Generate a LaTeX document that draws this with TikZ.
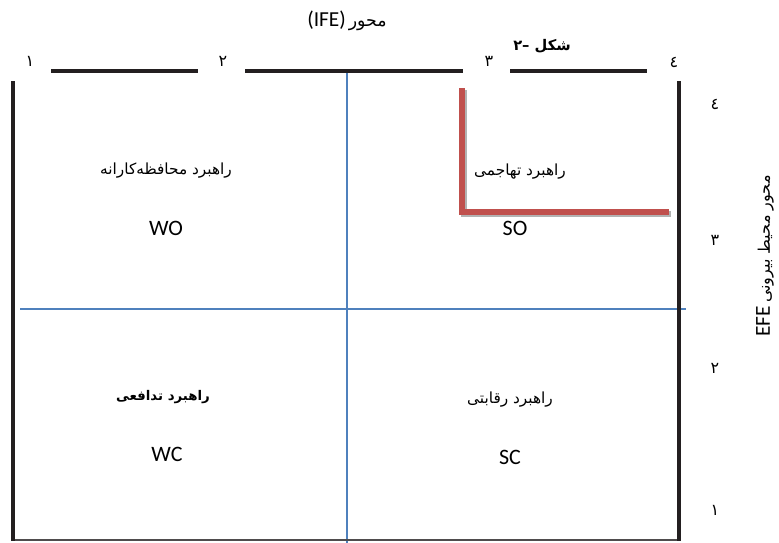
\documentclass[tikz,border=0pt]{standalone}
\usepackage{fontspec}
\setmainfont{Carlito}
\newfontfamily\arabicfont[Script=Arabic]{DejaVu Sans}
\TeXXeTstate=1
\definecolor{framec}{HTML}{231F20}
\definecolor{axisblue}{HTML}{4F81BD}
\definecolor{lred}{HTML}{C0504D}
\tikzset{
  frameline/.style={draw=framec, line width=3pt},
  thinframe/.style={draw=framec!80, line width=1.5pt},
  blueline/.style={draw=axisblue, line width=0.8pt},
  redline/.style={draw=lred, line width=4.3pt},
  shadowline/.style={draw=black!30, line width=4.3pt},
  fa/.style={font=\arabicfont\fontsize{11.5}{13}\selectfont, inner sep=0pt},
  fab/.style={font=\arabicfont\bfseries\fontsize{10}{12}\selectfont, inner sep=0pt},
  lat/.style={font=\fontsize{16.5}{18}\selectfont, inner sep=0pt},
  num/.style={font=\arabicfont\fontsize{12}{14}\selectfont, inner sep=0pt}
}
\begin{document}
\begin{tikzpicture}[x=0.75pt,y=-0.75pt]
\useasboundingbox (0,0) rectangle (779,543);
% frame coordinates
\coordinate (lt) at (13,81);   \coordinate (lb) at (13,541);
\coordinate (rt) at (679,81);  \coordinate (rb) at (679,541);
\coordinate (bl) at (12,540);  \coordinate (br) at (681,540);
\coordinate (s1a) at (51,71);  \coordinate (s1b) at (198,71);
\coordinate (s2a) at (245,71); \coordinate (s2b) at (463,71);
\coordinate (s3a) at (510,71); \coordinate (s3b) at (647,71);
\coordinate (vt) at (347,71);  \coordinate (vb) at (347,543);
\coordinate (hl) at (20,309);  \coordinate (hr) at (686,309);
\coordinate (ra) at (462,88);  \coordinate (rc) at (462,212);  \coordinate (rd) at (669,212);
\coordinate (sa) at (464,90);  \coordinate (sc) at (464,214);  \coordinate (sd) at (671,214);
% blue axes
\draw[blueline] (vt) -- (vb);
\draw[blueline] (hl) -- (hr);
% frame
\draw[thinframe] (bl) -- (br);
\draw[frameline] (lt) -- (lb);
\draw[frameline] (rt) -- (rb);
\draw[frameline] (s1a) -- (s1b);
\draw[frameline] (s2a) -- (s2b);
\draw[frameline] (s3a) -- (s3b);
% red L with shadow
\draw[shadowline] (sa) -- (sc) -- (sd);
\draw[redline] (ra) -- (rc) -- (rd);
% top numbers
\node[num] (t1) at (30,61) {١};
\node[num] (t2) at (223,61) {٢};
\node[num] (t3) at (489,61) {٣};
\node[num] (t4) at (674,62) {٤};
% right numbers
\node[num] (r4) at (715,104) {٤};
\node[num] (r3) at (715,240) {٣};
\node[num] (r2) at (715,368) {٢};
\node[num] (r1) at (715,510) {١};
% titles
\node[inner sep=0pt] (title) at (347,21) {\beginR{\arabicfont\fontsize{13}{15}\selectfont محور} \beginL{\fontsize{16}{18}\selectfont (IFE)}\endL\endR};
\node[fab, font=\arabicfont\bfseries\fontsize{11}{13}\selectfont] (fig) at (542,46) {\beginR شکل \beginL–۲\endL\endR};
\node[inner sep=0pt, rotate=90] (yax) at (765,256) {\beginL{\fontsize{16}{18}\selectfont EFE}\endL{} {\arabicfont\fontsize{12}{14}\selectfont\beginR محور محیط بیرونی\endR}};
% quadrants
\node[fa] (q1) at (166,171) {\beginR راهبرد محافظه‌کارانه\endR};
\node[lat] (wo) at (166,228) {WO};
\node[fa] (q2) at (520,172) {\beginR راهبرد تهاجمی\endR};
\node[lat] (so) at (515,228) {SO};
\node[fab] (q3) at (163,397) {\beginR راهبرد تدافعی\endR};
\node[lat] (wc) at (167,454) {WC};
\node[fa] (q4) at (510,400) {\beginR راهبرد رقابتی\endR};
\node[lat] (sc) at (510,457) {SC};
\end{tikzpicture}
\end{document}
